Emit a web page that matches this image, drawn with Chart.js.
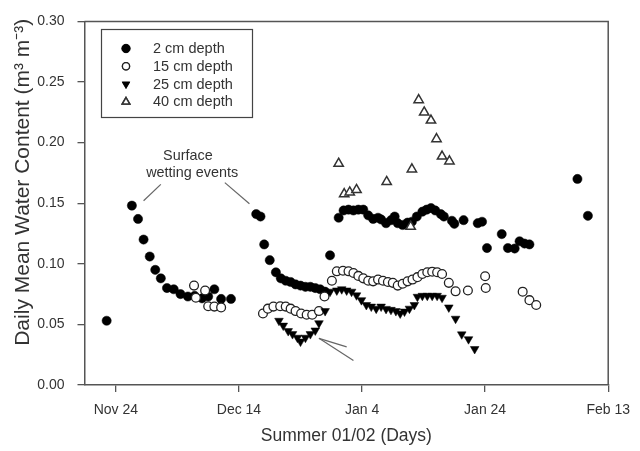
<!DOCTYPE html>
<html><head><meta charset="utf-8">
<script src="https://cdn.jsdelivr.net/npm/chart.js@4/dist/chart.umd.min.js"></script>
<style>html,body{margin:0;padding:0;background:#fff}</style>
</head><body>
<canvas id="c" width="640" height="451" style="display:block;width:640px;height:451px"></canvas>
<script>
// x = days after Nov 24
const tickDays = [0, 20, 40, 60, 80];
const tickLabels = ['Nov 24', 'Dec 14', 'Jan 4', 'Jan 24', 'Feb 13'];
const yTicks = [0, 0.05, 0.10, 0.15, 0.20, 0.25, 0.30];

const seriesNames = ['2 cm depth', '15 cm depth', '25 cm depth', '40 cm depth'];

const days2 = [-1.5, 2.6, 3.6, 4.5, 5.5, 6.4, 7.3, 8.3, 9.4, 10.5, 11.7, 12.8, 14.0, 15.0, 16.0, 17.1, 18.7,
  22.8, 23.5, 24.1, 25.0, 26.0, 26.8, 27.6, 28.4, 29.2, 30.0, 30.8, 31.6, 32.4, 33.2, 34.0, 34.8,
  36.2, 37.0, 37.8, 38.6, 39.4, 40.2, 41.0, 41.8, 42.6, 43.1, 43.9, 44.7, 45.3, 45.8, 46.6, 47.4, 48.1, 48.9,
  49.8, 50.5, 51.2, 51.9, 52.8, 53.3, 54.6, 55.0, 56.5, 58.8, 59.5, 60.3, 62.7, 63.7, 64.8, 65.6, 66.4, 67.2, 75.0, 76.7];
const vals2 = [0.053, 0.148, 0.137, 0.120, 0.106, 0.095, 0.088, 0.080, 0.079, 0.075, 0.073, 0.0735, 0.0715, 0.073, 0.079, 0.071, 0.071,
  0.141, 0.139, 0.116, 0.103, 0.093, 0.088, 0.086, 0.085, 0.083, 0.082, 0.081, 0.081, 0.080, 0.079, 0.077, 0.107,
  0.138, 0.144, 0.1447, 0.144, 0.1447, 0.1447, 0.140, 0.137, 0.138, 0.1366, 0.1335, 0.136, 0.139, 0.1335, 0.132, 0.134, 0.1347, 0.139,
  0.143, 0.1447, 0.146, 0.144, 0.141, 0.139, 0.1355, 0.133, 0.136, 0.1335, 0.1347, 0.113, 0.1245, 0.113, 0.1126, 0.1186, 0.1167, 0.116, 0.170, 0.1396];

const days15 = [12.7, 13.0, 14.5, 15.0, 16.0, 17.1,
  23.9, 24.7, 25.6, 26.7, 27.6, 28.4, 29.2, 30.1, 31.0, 31.9, 33.0, 33.9, 35.1,
  35.9, 36.9, 37.8, 38.6, 39.4, 40.2, 41.0, 41.8, 42.6, 43.4, 44.2, 45.0, 45.8, 46.6, 47.4, 48.2, 49.0, 49.8,
  50.6, 51.4, 52.2, 53.0, 54.1, 55.2, 57.2, 60.0, 60.1, 66.1, 67.2, 68.3];
const vals15 = [0.082, 0.072, 0.078, 0.065, 0.0647, 0.064,
  0.059, 0.063, 0.0647, 0.065, 0.0647, 0.063, 0.061, 0.059, 0.058, 0.058, 0.061, 0.073, 0.086,
  0.0938, 0.0943, 0.0938, 0.0924, 0.090, 0.088, 0.086, 0.0855, 0.087, 0.086, 0.085, 0.0843, 0.082, 0.0835, 0.0855, 0.087, 0.089, 0.0916,
  0.093, 0.0935, 0.093, 0.0916, 0.0843, 0.0773, 0.078, 0.0897, 0.080, 0.077, 0.070, 0.066];

const days25 = [26.5, 27.2, 28.0, 28.7, 29.5, 30.0, 30.8, 31.6, 32.4, 33.0, 34.0, 34.8,
  35.9, 36.7, 37.5, 38.3, 39.1, 39.9, 40.7, 41.5, 42.3, 43.1, 43.9, 44.7, 45.5, 46.2, 46.9, 47.7, 48.5,
  49.0, 49.8, 50.6, 51.4, 52.2, 53.0, 54.1, 55.2, 56.2, 57.3, 58.3];
const vals25 = [0.053, 0.049, 0.0445, 0.042, 0.039, 0.0358, 0.039, 0.042, 0.045, 0.051, 0.061, 0.077,
  0.078, 0.079, 0.078, 0.077, 0.074, 0.070, 0.066, 0.0647, 0.063, 0.0647, 0.0628, 0.062, 0.061, 0.059, 0.0606, 0.063, 0.066,
  0.0728, 0.0736, 0.0736, 0.0736, 0.0736, 0.072, 0.064, 0.0547, 0.0418, 0.0378, 0.0297];

const days40 = [36.2, 37.1, 38.0, 39.1, 44.0, 47.9, 48.1, 49.2, 50.1, 51.2, 52.1, 53.0, 54.2];
const vals40 = [0.1827, 0.1576, 0.159, 0.161, 0.1676, 0.1307, 0.178, 0.2352, 0.225, 0.2183, 0.203, 0.1886, 0.1846];

const FONT = "'Liberation Sans', Arial, sans-serif";
const TEXT = '#333';
const AXIS = '#555';

function pts(d, v) { return d.map((x, i) => ({ x: x, y: v[i] })); }

const framePlugin = {
  id: 'frame',
  beforeDatasetsDraw(chart) {
    const { ctx, chartArea: a } = chart;
    ctx.save();
    ctx.strokeStyle = AXIS; ctx.lineWidth = 1.5;
    ctx.beginPath();
    ctx.moveTo(a.left, a.top); ctx.lineTo(a.right, a.top); ctx.lineTo(a.right, a.bottom);
    ctx.stroke();
    ctx.restore();
  }
};

const annotPlugin = {
  id: 'annot',
  afterDraw(chart) {
    const { ctx } = chart;
    const xs = chart.scales.x, ys = chart.scales.y;
    const P = (d, v) => [xs.getPixelForValue(d), ys.getPixelForValue(v)];
    ctx.save();
    // y axis title
    ctx.fillStyle = TEXT;
    ctx.font = "21px " + FONT;
    ctx.translate(23, ys.getPixelForValue(0.1673));
    ctx.rotate(-Math.PI / 2);
    ctx.textAlign = 'center'; ctx.textBaseline = 'middle';
    ctx.fillText('Daily Mean Water Content (m\u00B3 m\u207B\u00B3)', 0, 0);
    ctx.restore();

    ctx.save();
    ctx.fillStyle = TEXT;
    ctx.font = "14.4px " + FONT;
    ctx.textAlign = 'center'; ctx.textBaseline = 'middle';
    let p = P(11.7, 0.189); ctx.fillText('Surface', p[0], p[1]);
    p = P(12.4, 0.175); ctx.fillText('wetting events', p[0], p[1]);
    ctx.strokeStyle = '#666'; ctx.lineWidth = 1.2;
    const seg = (a, b) => { const p1 = P(a[0], a[1]), p2 = P(b[0], b[1]); ctx.beginPath(); ctx.moveTo(p1[0], p1[1]); ctx.lineTo(p2[0], p2[1]); ctx.stroke(); };
    seg([7.3, 0.1655], [4.5, 0.152]);
    seg([17.7, 0.167], [21.7, 0.1496]);
    seg([33.0, 0.0385], [38.6, 0.0202]);
    seg([33.0, 0.0385], [37.5, 0.0315]);
    ctx.restore();

    // legend
    ctx.save();
    ctx.strokeStyle = '#444'; ctx.lineWidth = 1.2;
    ctx.strokeRect(101.5, 29.5, 151, 88);
    ctx.font = "14.5px " + FONT;
    ctx.textAlign = 'left'; ctx.textBaseline = 'middle';
    chart.data.datasets.forEach((ds, i) => {
      const y = 48.5 + i * 17.8;
      ctx.fillStyle = ds.backgroundColor; ctx.strokeStyle = ds.borderColor; ctx.lineWidth = ds.borderWidth;
      ctx.beginPath();
      Chart.helpers.drawPoint(ctx, { pointStyle: ds.pointStyle, rotation: ds.rotation || 0, radius: ds.legendRadius, borderWidth: ds.borderWidth }, 126, y);
      ctx.fill(); ctx.stroke();
      ctx.fillStyle = TEXT;
      ctx.fillText(ds.label, 153, y + 0.5);
    });
    ctx.restore();
  }
};

new Chart(document.getElementById('c'), {
  type: 'scatter',
  data: {
    datasets: [
      { label: seriesNames[0], data: pts(days2, vals2), pointStyle: 'circle', pointRadius: 4.6, legendRadius: 4.2,
        backgroundColor: '#000', borderColor: '#000', borderWidth: 0.5, order: 4 },
      { label: seriesNames[1], data: pts(days15, vals15), pointStyle: 'circle', pointRadius: 4.4, legendRadius: 3.6,
        backgroundColor: '#fff', borderColor: '#222', borderWidth: 1.3, order: 3 },
      { label: seriesNames[2], data: pts(days25, vals25), pointStyle: 'triangle', rotation: 180, pointRotation: 180, pointRadius: 5, legendRadius: 4.4,
        backgroundColor: '#000', borderColor: '#000', borderWidth: 0.5, order: 2 },
      { label: seriesNames[3], data: pts(days40, vals40), pointStyle: 'triangle', pointRadius: 5.4, legendRadius: 4.4,
        backgroundColor: '#fff', borderColor: '#333', borderWidth: 1.5, order: 1 }
    ]
  },
  options: {
    responsive: false,
    animation: false,
    devicePixelRatio: 1,
    layout: { padding: { left: 0, right: 25.3, top: 14, bottom: 0 } },
    plugins: { legend: { display: false }, tooltip: { enabled: false } },
    scales: {
      x: {
        type: 'linear', position: 'bottom', min: -5.1, max: 80,
        afterBuildTicks: (s) => { s.ticks = tickDays.map(v => ({ value: v })); },
        afterFit: (s) => { s.height = 66; },
        ticks: { callback: (v) => tickLabels[tickDays.indexOf(v)], font: { family: FONT, size: 14 }, color: TEXT, padding: 10, maxRotation: 0, autoSkip: false },
        grid: { display: true, drawOnChartArea: false, drawTicks: true, tickLength: 7, color: AXIS, lineWidth: 1.3 },
        border: { display: true, color: AXIS, width: 1.5 },
        title: { display: true, text: 'Summer 01/02 (Days)', font: { family: FONT, size: 17.5 }, color: TEXT, padding: { top: 0, bottom: 4 } }
      },
      y: {
        type: 'linear', min: 0, max: 0.3,
        afterBuildTicks: (s) => { s.ticks = yTicks.map(v => ({ value: v })); },
        afterFit: (s) => { s.width = 84.5; },
        ticks: { callback: (v) => v.toFixed(2), font: { family: FONT, size: 14 }, color: TEXT, padding: 13 },
        grid: { display: true, drawOnChartArea: false, drawTicks: true, tickLength: 7, color: AXIS, lineWidth: 1.3 },
        border: { display: true, color: AXIS, width: 1.5 }
      }
    }
  },
  plugins: [framePlugin, annotPlugin]
});
</script>
</body></html>
